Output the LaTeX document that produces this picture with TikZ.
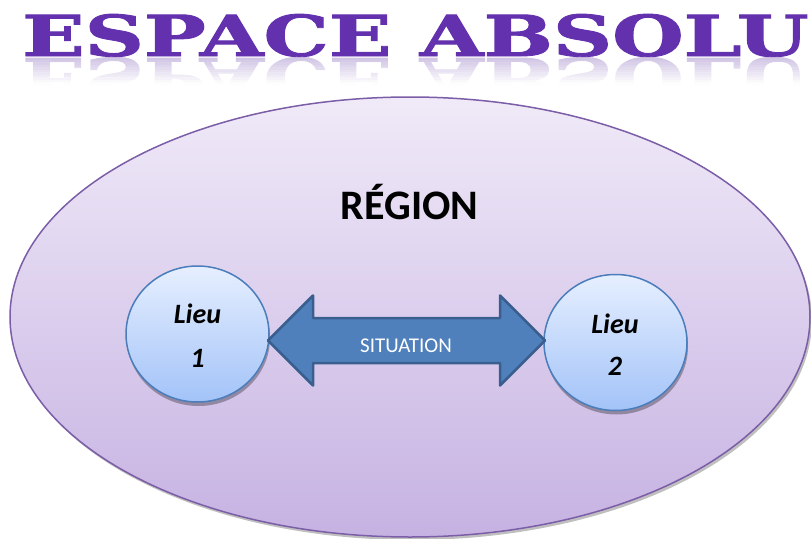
\documentclass[tikz,border=0pt]{standalone}
\usepackage{fontspec}
\setmainfont{Carlito}
\newfontfamily\titlefont[BoldFeatures={FakeBold=1.5}]{DejaVu Serif}
\usetikzlibrary{shapes.geometric,shadows,calc}
\definecolor{titlepurple}{HTML}{6431AE}
\definecolor{reflpurple}{HTML}{C9BBE0}
\definecolor{regtop}{HTML}{F0EAF8}
\definecolor{regbot}{HTML}{C6B2E2}
\definecolor{regline}{HTML}{7B5EA7}
\definecolor{lieutop}{HTML}{E6EFFF}
\definecolor{lieubot}{HTML}{A3C3F8}
\definecolor{lieuline}{HTML}{4A7DBA}
\definecolor{arrowfill}{HTML}{4F80BC}
\definecolor{arrowline}{HTML}{3A5F8E}
\tikzset{
  regionshape/.style={ellipse, draw=regline, line width=1.5pt, top color=regtop, bottom color=regbot,
    minimum width=800pt, minimum height=440pt, inner sep=0pt,
    drop shadow={shadow xshift=2pt, shadow yshift=-3pt, opacity=0.25, fill=black}},
  lieushape/.style={ellipse, draw=lieuline, line width=1.5pt, top color=lieutop, bottom color=lieubot,
    minimum width=143pt, minimum height=136pt, inner sep=0pt,
    drop shadow={shadow xshift=1pt, shadow yshift=-4pt, opacity=0.3, fill=black}},
  lieutext/.style={anchor=base, inner sep=0pt, font=\bfseries\itshape\fontsize{28}{28}\selectfont},
  arrowshape/.style={fill=arrowfill, draw=arrowline, line width=2.5pt, line join=round},
}
\begin{document}
\begin{tikzpicture}[x=1pt,y=-1pt]
\useasboundingbox (0,0) rectangle (811,538);
% title and its reflection
\node[anchor=base west, inner sep=0pt, text=reflpurple, yscale=-1, transform shape] (titlerefl) at (22,58)
  {\resizebox{786pt}{42pt}{\titlefont\bfseries ESPACE ABSOLU}};
\foreach \i in {0,...,15} {
  \pgfmathsetmacro{\op}{min(1,0.15+\i/12)}
  \fill[white, opacity=\op] (0,{57+\i*2.5}) rectangle (811,{57+(\i+1)*2.5});
}
\fill[white] (0,96) rectangle (811,104);
\node[anchor=base west, inner sep=0pt, text=titlepurple] (title) at (22,56)
  {\resizebox{786pt}{42pt}{\titlefont\bfseries ESPACE ABSOLU}};
% region
\node[regionshape] (region) at (410,317) {};
\node[anchor=base, inner sep=0pt, font=\bfseries\fontsize{42}{42}\selectfont] (regionlabel) at (409.5,219) {RÉGION};
% places
\node[lieushape] (l1) at (197.5,334) {};
\node[lieushape] (l2) at (615.5,342.5) {};
\node[lieutext] (l1a) at (197.5,323) {Lieu};
\node[lieutext] (l1b) at (197.5,367) {1};
\node[lieutext] (l2a) at (615,333) {Lieu};
\node[lieutext] (l2b) at (615,375) {2};
% double arrow between the places
\coordinate (tipL) at (268,340.5);
\coordinate (tipR) at (545,340.5);
\draw[arrowshape] (tipL) -- ++(45,-45) -- ++(0,22.5) -- ($(tipR)+(-45,-22.5)$) -- ++(0,-22.5) -- (tipR)
  -- ++(-45,45) -- ++(0,-22.5) -- ($(tipL)+(45,22.5)$) -- ++(0,22.5) -- cycle;
\node[anchor=base, inner sep=0pt, text=white, font=\fontsize{21}{21}\selectfont] (sit) at (406,352) {SITUATION};
\end{tikzpicture}
\end{document}
